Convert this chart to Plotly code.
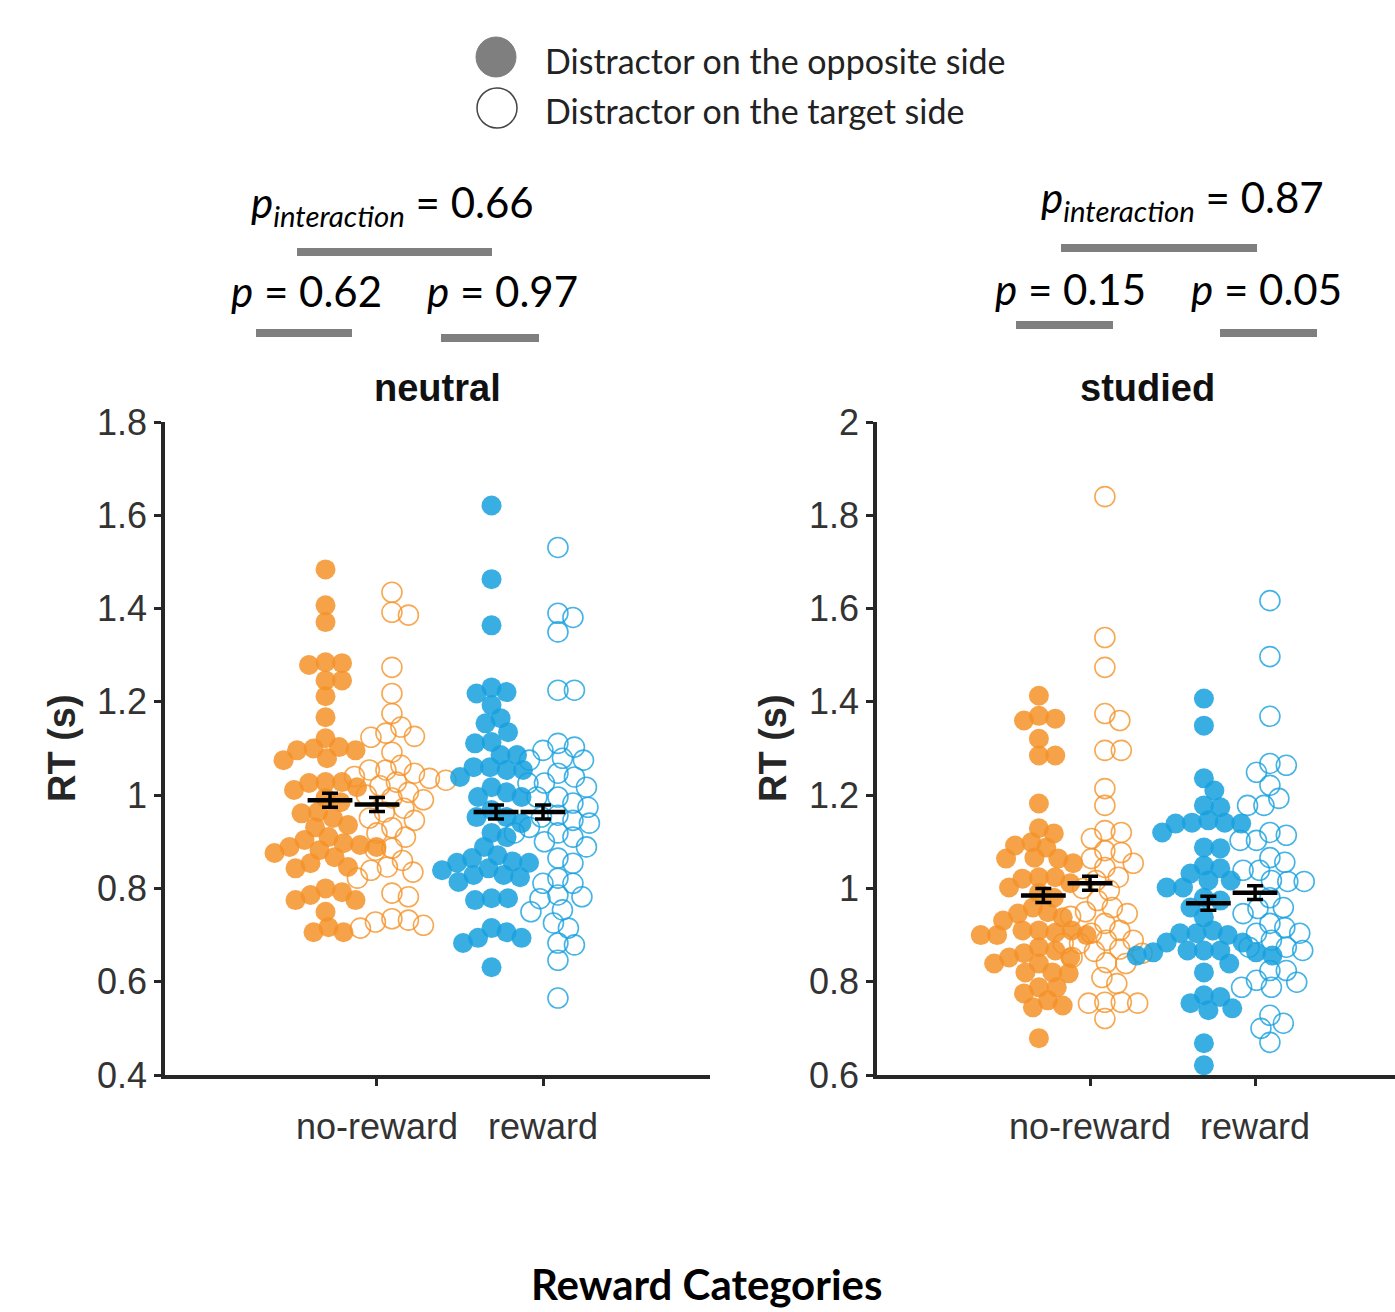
import numpy as np
import plotly.graph_objects as go

W, H = 1395, 1312

# ---------------- data (RT in seconds) ----------------
categories = ["no-reward", "reward"]
panels = ["neutral", "studied"]

neutral_noreward_opposite = [1.484, 1.407, 1.371, 1.285, 1.283, 1.279, 1.246, 1.246, 1.212, 1.167, 1.122, 1.103, 1.100, 1.096, 1.096, 1.079, 1.075, 1.028, 1.028, 1.026, 1.017, 1.011, 0.994, 0.985, 0.964, 0.961, 0.951, 0.936, 0.931, 0.910, 0.904, 0.897, 0.893, 0.889, 0.889, 0.882, 0.876, 0.867, 0.854, 0.846, 0.843, 0.800, 0.792, 0.786, 0.775, 0.775, 0.750, 0.717, 0.706, 0.706]
neutral_noreward_target = [1.435, 1.392, 1.386, 1.274, 1.218, 1.175, 1.146, 1.133, 1.126, 1.124, 1.092, 1.064, 1.054, 1.054, 1.047, 1.040, 1.036, 1.032, 1.028, 1.020, 1.006, 1.000, 0.994, 0.990, 0.972, 0.964, 0.951, 0.946, 0.930, 0.919, 0.910, 0.886, 0.882, 0.860, 0.846, 0.839, 0.835, 0.822, 0.790, 0.782, 0.735, 0.732, 0.728, 0.721, 0.715]
neutral_reward_opposite = [1.621, 1.463, 1.364, 1.231, 1.221, 1.218, 1.193, 1.165, 1.154, 1.135, 1.114, 1.111, 1.086, 1.086, 1.060, 1.060, 1.054, 1.054, 1.039, 1.017, 1.006, 0.996, 0.996, 0.968, 0.953, 0.953, 0.940, 0.919, 0.910, 0.889, 0.871, 0.865, 0.858, 0.855, 0.855, 0.843, 0.839, 0.829, 0.829, 0.824, 0.814, 0.779, 0.779, 0.775, 0.715, 0.706, 0.694, 0.694, 0.683, 0.631]
neutral_reward_target = [1.531, 1.390, 1.381, 1.350, 1.225, 1.225, 1.111, 1.103, 1.096, 1.079, 1.075, 1.075, 1.047, 1.039, 1.026, 1.026, 1.017, 0.996, 0.996, 0.983, 0.974, 0.957, 0.953, 0.946, 0.940, 0.931, 0.919, 0.919, 0.910, 0.900, 0.889, 0.865, 0.854, 0.822, 0.811, 0.811, 0.786, 0.782, 0.778, 0.754, 0.750, 0.726, 0.715, 0.683, 0.679, 0.646, 0.565]

studied_noreward_opposite = [1.413, 1.370, 1.364, 1.360, 1.321, 1.285, 1.285, 1.182, 1.129, 1.118, 1.099, 1.092, 1.088, 1.066, 1.064, 1.064, 1.054, 1.024, 1.024, 1.021, 1.011, 1.002, 0.990, 0.980, 0.959, 0.949, 0.946, 0.938, 0.931, 0.910, 0.910, 0.910, 0.905, 0.900, 0.900, 0.900, 0.874, 0.867, 0.861, 0.852, 0.852, 0.839, 0.839, 0.820, 0.820, 0.818, 0.788, 0.788, 0.775, 0.760, 0.749, 0.745, 0.679]
studied_noreward_target = [1.840, 1.538, 1.474, 1.375, 1.360, 1.296, 1.296, 1.214, 1.178, 1.124, 1.120, 1.107, 1.081, 1.077, 1.064, 1.054, 1.045, 1.024, 1.017, 1.000, 0.996, 0.974, 0.959, 0.950, 0.946, 0.940, 0.925, 0.910, 0.904, 0.889, 0.889, 0.882, 0.882, 0.870, 0.865, 0.861, 0.852, 0.841, 0.839, 0.809, 0.796, 0.756, 0.756, 0.754, 0.754, 0.721]
studied_reward_opposite = [1.407, 1.349, 1.236, 1.210, 1.178, 1.174, 1.146, 1.141, 1.139, 1.139, 1.141, 1.120, 1.088, 1.086, 1.049, 1.043, 1.032, 1.017, 1.017, 1.002, 1.002, 0.980, 0.974, 0.959, 0.938, 0.910, 0.904, 0.904, 0.900, 0.884, 0.884, 0.867, 0.863, 0.863, 0.867, 0.867, 0.856, 0.856, 0.839, 0.820, 0.771, 0.767, 0.754, 0.743, 0.739, 0.668, 0.621]
studied_reward_target = [1.617, 1.497, 1.369, 1.268, 1.264, 1.249, 1.221, 1.193, 1.178, 1.178, 1.120, 1.114, 1.103, 1.103, 1.066, 1.056, 1.039, 1.039, 1.017, 1.015, 1.015, 0.980, 0.959, 0.957, 0.946, 0.925, 0.916, 0.904, 0.904, 0.889, 0.874, 0.874, 0.867, 0.824, 0.824, 0.803, 0.799, 0.788, 0.788, 0.728, 0.711, 0.700, 0.670]

# means and SEM per panel: [no-reward, reward]
neutral_mean_opposite = [0.989, 0.964]
neutral_mean_target = [0.980, 0.964]
studied_mean_opposite = [0.985, 0.968]
studied_mean_target = [1.011, 0.991]
sem_opposite = [0.015, 0.015]
sem_target = [0.015, 0.015]

p_interaction = ["0.66", "0.87"]
p_simple = [["0.62", "0.97"], ["0.15", "0.05"]]

ORANGE = "rgb(245,146,40)"
BLUE = "rgb(22,160,222)"
cat_colors = [ORANGE, BLUE]

# ---------------- layout geometry ----------------
def px(x):
    return x / W

def py(y):
    return 1 - y / H

plot_top, plot_bot = 422, 1075
dom_y = [py(plot_bot), py(plot_top)]
dom_x1 = [px(165), px(710)]
dom_x2 = [px(877), 1.0]
xr1 = [-0.277, 3.006]
xr2 = [-0.291, 2.848]
X_PX_PER_UNIT = 166.0
Y_PX_PER_UNIT = (plot_bot - plot_top) / 1.4

OFF_OPP = -0.31   # cloud center offset for filled points
OFF_TGT = 0.09    # cloud center offset for open points
MEAN_OFF_OPP = -0.283
MEAN_OFF_TGT = 0.0


def swarm(vals, d=15.5, step=1.5):
    vals = np.asarray(vals, dtype=float)
    ypix = vals * Y_PX_PER_UNIT
    order = np.argsort(-vals, kind="stable")
    placed = []
    offs = np.zeros(len(vals))
    for i in order:
        k = 0
        while True:
            found = None
            for s in ((0,) if k == 0 else (1, -1)):
                xo = s * k * step
                ok = True
                for (xp, yp) in placed:
                    if (xo - xp) ** 2 + (ypix[i] - yp) ** 2 < d * d:
                        ok = False
                        break
                if ok:
                    found = xo
                    break
            if found is not None:
                offs[i] = found
                placed.append((found, ypix[i]))
                break
            k += 1
    return offs / X_PX_PER_UNIT


fig = go.Figure()

panel_data = [
    (neutral_noreward_opposite, neutral_noreward_target, neutral_reward_opposite, neutral_reward_target,
     neutral_mean_opposite, neutral_mean_target),
    (studied_noreward_opposite, studied_noreward_target, studied_reward_opposite, studied_reward_target,
     studied_mean_opposite, studied_mean_target),
]

for pi, (nro, nrt, ro, rt, mo, mt) in enumerate(panel_data):
    xa = "x" if pi == 0 else "x2"
    ya = "y" if pi == 0 else "y2"
    groups_opp = [nro, ro]
    groups_tgt = [nrt, rt]
    for ci in range(2):
        cat_x = ci + 1
        color = cat_colors[ci]
        tv = groups_tgt[ci]
        fig.add_trace(go.Scatter(
            x=cat_x + OFF_TGT + swarm(tv), y=tv, xaxis=xa, yaxis=ya, mode="markers",
            marker=dict(symbol="circle-open", size=20, color=color, opacity=0.8,
                        line=dict(width=1.6, color=color)),
            showlegend=False, hoverinfo="y"))
    for ci in range(2):
        cat_x = ci + 1
        color = cat_colors[ci]
        ov = groups_opp[ci]
        fig.add_trace(go.Scatter(
            x=cat_x + OFF_OPP + swarm(ov), y=ov, xaxis=xa, yaxis=ya, mode="markers",
            marker=dict(symbol="circle", size=20, color=color, opacity=0.85, line=dict(width=0)),
            showlegend=False, hoverinfo="y"))
    # means with SEM
    mx = [1 + MEAN_OFF_OPP, 2 + MEAN_OFF_OPP, 1 + MEAN_OFF_TGT, 2 + MEAN_OFF_TGT]
    my = [mo[0], mo[1], mt[0], mt[1]]
    me = [sem_opposite[0], sem_opposite[1], sem_target[0], sem_target[1]]
    fig.add_trace(go.Scatter(
        x=mx, y=my, xaxis=xa, yaxis=ya, mode="markers",
        marker=dict(symbol="line-ew", size=32, color="black", line=dict(width=4.5, color="black")),
        error_y=dict(type="data", array=me, visible=True, thickness=3.5, width=8, color="black"),
        showlegend=False, hoverinfo="y"))

axis_common = dict(showline=True, linewidth=3.5, linecolor="#262626", ticks="outside",
                   tickwidth=3, ticklen=7, tickcolor="#262626", showgrid=False, zeroline=False,
                   automargin=False,
                   tickfont=dict(family="Liberation Sans, Arial", size=36, color="#333333"))

fig.update_layout(
    width=W, height=H,
    margin=dict(l=0, r=0, t=0, b=0, pad=0),
    paper_bgcolor="white", plot_bgcolor="white",
    showlegend=False,
    xaxis=dict(domain=dom_x1, range=xr1, tickvals=[1, 2], ticktext=categories, anchor="y", **axis_common),
    yaxis=dict(domain=dom_y, range=[0.4, 1.8], dtick=0.2, tick0=0.4, anchor="x", **axis_common),
    xaxis2=dict(domain=dom_x2, range=xr2, tickvals=[1, 2], ticktext=categories, anchor="y2", **axis_common),
    yaxis2=dict(domain=dom_y, range=[0.6, 2.0], dtick=0.2, tick0=0.6, anchor="x2", **axis_common),
)
fig.update_xaxes(ticklabelstandoff=10)

annotations = []
shapes = []
PFONT = "Lato, Open Sans, sans-serif"

# panel titles
for name, cx in zip(panels, [437, 1147]):
    annotations.append(dict(x=px(cx), y=py(388), xref="paper", yref="paper", text=f"<b>{name}</b>",
                            showarrow=False, xanchor="center", yanchor="middle",
                            font=dict(family="Liberation Sans, Arial", size=38, color="#111")))
# y-axis titles
for cx in [62, 773]:
    annotations.append(dict(x=px(cx), y=py(748), xref="paper", yref="paper", text="<b>RT (s)</b>",
                            showarrow=False, textangle=-90, xanchor="center", yanchor="middle",
                            font=dict(family="Liberation Sans, Arial", size=38, color="#262626")))
# common x title
annotations.append(dict(x=px(706), y=py(1284), xref="paper", yref="paper", text="<b>Reward Categories</b>",
                        showarrow=False, xanchor="center", yanchor="middle",
                        font=dict(family=PFONT, size=42, color="black")))

# p-value texts
pint_pos = [(392, 205), (1182, 200)]
psim_pos = [[(306, 291), (502, 291)], [(1070, 289), (1266, 289)]]
for pi in range(2):
    cx, cy = pint_pos[pi]
    annotations.append(dict(x=px(cx), y=py(cy), xref="paper", yref="paper",
                            text=f"<i>p</i><sub><i>interaction</i></sub> = {p_interaction[pi]}",
                            showarrow=False, xanchor="center", yanchor="middle",
                            font=dict(family=PFONT, size=42, color="black")))
    for si in range(2):
        cx, cy = psim_pos[pi][si]
        annotations.append(dict(x=px(cx), y=py(cy), xref="paper", yref="paper",
                                text=f"<i>p</i> = {p_simple[pi][si]}",
                                showarrow=False, xanchor="center", yanchor="middle",
                                font=dict(family=PFONT, size=42, color="black")))

# gray bars
bars = [(297, 492, 252), (256, 352, 333), (441, 539, 338),
        (1061, 1257, 248), (1016, 1113, 325), (1220, 1317, 333)]
for x0, x1, yb in bars:
    shapes.append(dict(type="line", xref="paper", yref="paper", x0=px(x0), x1=px(x1), y0=py(yb), y1=py(yb),
                       line=dict(color="#7f7f7f", width=8)))

# legend
shapes.append(dict(type="circle", xref="paper", yref="paper", xsizemode="pixel", ysizemode="pixel",
                   xanchor=px(496), yanchor=py(57), x0=-20, x1=20, y0=-20, y1=20,
                   fillcolor="#7f7f7f", line=dict(color="#7f7f7f", width=1)))
shapes.append(dict(type="circle", xref="paper", yref="paper", xsizemode="pixel", ysizemode="pixel",
                   xanchor=px(497), yanchor=py(108), x0=-20, x1=20, y0=-20, y1=20,
                   fillcolor="white", line=dict(color="#444", width=1.5)))
for txt, yy in [("Distractor on the opposite side", 60), ("Distractor on the target side", 110)]:
    annotations.append(dict(x=px(543), y=py(yy), xref="paper", yref="paper", text=txt,
                            showarrow=False, xanchor="left", yanchor="middle",
                            font=dict(family=PFONT, size=34, color="#222")))

fig.update_layout(annotations=annotations, shapes=shapes)

post = ("document.documentElement.style.margin='0';document.documentElement.style.padding='0';"
        "document.body.style.margin='0';document.body.style.padding='0';document.body.style.overflow='hidden';"
        "var d=document.getElementById('{plot_id}');d.style.position='absolute';d.style.left='0px';d.style.top='0px';")
fig.write_html("out.html", post_script=post, config={"displayModeBar": False})
